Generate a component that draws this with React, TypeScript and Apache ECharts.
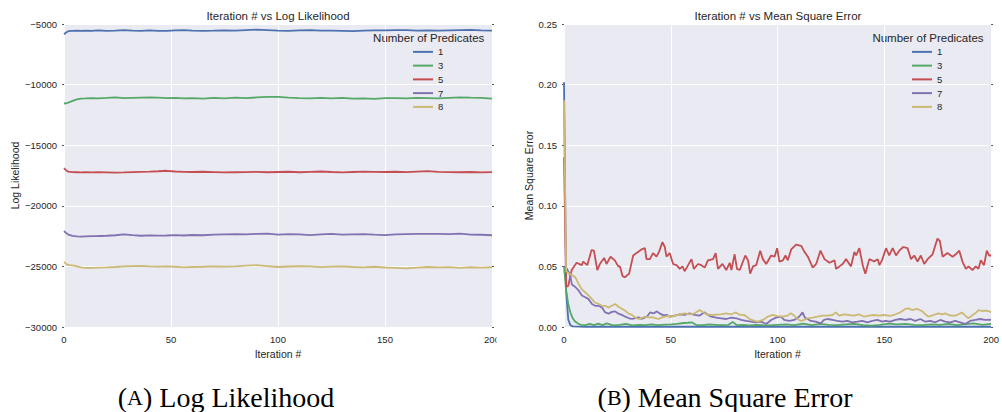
import React, { useEffect, useRef } from "react";
import * as echarts from "echarts";

const SERIES_NAMES = ["1", "3", "5", "7", "8"];
const COLORS = ["#4C72B0", "#55A868", "#C44E52", "#8172B2", "#CCB974"];

// ---- Log likelihood (left) ----
const LL_ITER = [0, 1, 2, 4, 6, 8, 10, 13, 16, 20, 24, 28, 32, 36, 40, 44, 48, 52, 56, 60, 65, 70, 75, 80, 85, 90, 95, 100, 105, 110, 115, 120, 125, 130, 135, 140, 145, 150, 155, 160, 165, 170, 175, 180, 185, 190, 195, 200];
const LL_1 = [-5850, -5700, -5590, -5560, -5550, -5570, -5540, -5560, -5530, -5560, -5540, -5510, -5540, -5560, -5530, -5570, -5560, -5520, -5500, -5540, -5560, -5550, -5520, -5540, -5500, -5470, -5510, -5550, -5560, -5530, -5510, -5540, -5550, -5560, -5580, -5550, -5530, -5520, -5500, -5510, -5540, -5530, -5550, -5520, -5500, -5480, -5520, -5540];
const LL_3 = [-11560, -11540, -11480, -11350, -11220, -11150, -11140, -11120, -11130, -11100, -11050, -11120, -11100, -11080, -11060, -11070, -11110, -11100, -11140, -11120, -11150, -11090, -11130, -11080, -11120, -11060, -11020, -11010, -11070, -11110, -11140, -11090, -11130, -11100, -11160, -11130, -11180, -11120, -11110, -11140, -11090, -11110, -11130, -11090, -11060, -11080, -11090, -11150];
const LL_5 = [-16900, -17080, -17180, -17220, -17230, -17250, -17230, -17250, -17220, -17240, -17260, -17250, -17220, -17200, -17180, -17150, -17110, -17170, -17200, -17210, -17190, -17220, -17250, -17230, -17220, -17200, -17230, -17210, -17190, -17230, -17200, -17170, -17210, -17240, -17210, -17180, -17200, -17210, -17190, -17220, -17180, -17140, -17200, -17220, -17230, -17210, -17240, -17220];
const LL_7 = [-22080, -22250, -22380, -22480, -22530, -22550, -22530, -22500, -22490, -22470, -22430, -22360, -22420, -22470, -22440, -22460, -22450, -22420, -22450, -22410, -22430, -22380, -22360, -22340, -22350, -22320, -22300, -22380, -22330, -22360, -22420, -22360, -22320, -22380, -22350, -22330, -22380, -22420, -22360, -22340, -22320, -22310, -22320, -22330, -22290, -22380, -22390, -22430];
const LL_8 = [-24620, -24800, -24900, -24920, -25000, -25080, -25120, -25130, -25100, -25080, -25050, -25000, -24970, -24950, -25000, -25020, -25000, -25030, -25080, -25050, -25030, -25000, -25020, -24990, -24940, -24900, -24970, -25050, -25010, -24980, -25000, -25060, -25020, -25000, -25050, -25080, -25030, -25090, -25120, -25160, -25100, -25050, -25080, -25060, -25120, -25070, -25100, -25070];
const LL_SERIES = [LL_1, LL_3, LL_5, LL_7, LL_8];

// ---- Mean square error (right): [iteration, value] ----
const MSE_1 = [[0, 0.202], [1, 0.03], [2, 0.006], [3, 0.0015], [4, 0.0005], [10, 0.0002], [40, 0.0002], [80, 0.0002], [120, 0.0002], [160, 0.0002], [200, 0.0002]];
const MSE_3 = [[0, 0.05], [1, 0.03], [2, 0.019], [3, 0.012], [4, 0.0075], [5, 0.005], [6, 0.0035], [7, 0.0025], [8, 0.0018], [10, 0.0016], [12, 0.0025], [14, 0.0015], [16, 0.0028], [18, 0.0015], [20, 0.003], [23, 0.0014], [26, 0.0018], [29, 0.0025], [32, 0.0013], [35, 0.0017], [38, 0.0015], [41, 0.0021], [44, 0.0015], [47, 0.0019], [50, 0.0021], [53, 0.0025], [56, 0.0033], [58, 0.0035], [60, 0.0038], [62, 0.0016], [65, 0.0015], [68, 0.0021], [71, 0.0018], [74, 0.0015], [77, 0.0018], [79, 0.0042], [81, 0.0015], [84, 0.0018], [87, 0.0013], [90, 0.0017], [93, 0.0015], [96, 0.0014], [100, 0.0018], [104, 0.0021], [108, 0.0015], [112, 0.0027], [116, 0.0015], [120, 0.0025], [124, 0.0018], [128, 0.0015], [132, 0.0021], [136, 0.0025], [140, 0.0015], [144, 0.0011], [148, 0.0018], [152, 0.0028], [156, 0.0021], [160, 0.0025], [164, 0.0018], [168, 0.0015], [172, 0.0021], [176, 0.0018], [180, 0.0025], [184, 0.0015], [188, 0.0023], [192, 0.003], [196, 0.0018], [200, 0.0025]];
const MSE_5_ITER = [
  0, 1, 2, 3.6, 5.9, 8.3, 9, 10.9, 12.9, 14,
  15.6, 16.8, 18.8, 19.9, 21.8, 23.8, 25.4, 26.2, 27.4, 28.5,
  30.5, 32.4, 34, 36.3, 37.9, 38.6, 40.2, 41.7, 43.3, 44.5,
  46.1, 47.2, 48, 49.5, 51.1, 52.7, 54.2, 55.5, 56.5, 57.8,
  59.7, 60.8, 62.8, 64.3, 65.9, 67.4, 69.8, 71, 72.1, 74.2,
  76, 77.6, 78.4, 79.9, 81, 82.3, 84.9, 86.2, 87.2, 88.5,
  90, 91.9, 93.1, 94.7, 97, 98.6, 99.8, 100.9, 102.5, 103.7,
  104.8, 106.4, 108.7, 111.1, 112.6, 114.2, 116.5, 118.1, 120.1, 122,
  124.3, 126.7, 127.4, 129, 130.5, 132.1, 134.4, 136, 136.8, 138.3,
  139.9, 141.1, 143, 145.3, 146.9, 147.7, 148.9, 150.8, 152.3, 153.9,
  155.5, 157, 158.9, 160.9, 162.5, 164, 165.6, 167.1, 168.7, 170.3,
  172.6, 174.9, 176, 177.3, 179.6, 182, 183.5, 185.1, 186.6, 188.2,
  189.4, 191.3, 192.8, 194.1, 195.2, 196.7, 198, 199.1, 200,
];
const MSE_5 = [
  0.14, 0.033, 0.034, 0.047, 0.053, 0.051, 0.054, 0.051, 0.0635, 0.063,
  0.047, 0.052, 0.057, 0.052, 0.058, 0.055, 0.05, 0.05, 0.042, 0.041,
  0.044, 0.059, 0.061, 0.064, 0.065, 0.056, 0.056, 0.061, 0.058, 0.062,
  0.07, 0.066, 0.058, 0.061, 0.052, 0.051, 0.048, 0.05, 0.046, 0.05,
  0.056, 0.048, 0.052, 0.051, 0.049, 0.055, 0.056, 0.061, 0.048, 0.052,
  0.047, 0.053, 0.047, 0.06, 0.048, 0.047, 0.059, 0.055, 0.044, 0.05,
  0.051, 0.063, 0.056, 0.052, 0.059, 0.058, 0.065, 0.054, 0.055, 0.059,
  0.055, 0.064, 0.068, 0.067, 0.062, 0.058, 0.049, 0.052, 0.063, 0.056,
  0.053, 0.055, 0.048, 0.05, 0.052, 0.056, 0.05, 0.062, 0.059, 0.065,
  0.051, 0.044, 0.056, 0.054, 0.056, 0.051, 0.055, 0.065, 0.059, 0.065,
  0.059, 0.063, 0.066, 0.065, 0.056, 0.059, 0.054, 0.059, 0.052, 0.056,
  0.06, 0.073, 0.071, 0.058, 0.061, 0.058, 0.06, 0.063, 0.054, 0.048,
  0.05, 0.047, 0.05, 0.048, 0.055, 0.051, 0.063, 0.059, 0.059,
];
const MSE_7 = [[0, 0.05], [1, 0.049], [2, 0.046], [3, 0.042], [3.7, 0.035], [5.3, 0.033], [6.9, 0.03], [8.4, 0.026], [10, 0.0245], [11.5, 0.023], [13.1, 0.019], [14.6, 0.0175], [16.2, 0.0175], [17.8, 0.016], [19.3, 0.012], [20.9, 0.011], [22.4, 0.0125], [24, 0.0129], [25.5, 0.011], [27.1, 0.01], [28.7, 0.0085], [30.2, 0.0074], [31.8, 0.0066], [33.3, 0.0074], [34.9, 0.0079], [36.4, 0.0066], [38.8, 0.0085], [40.3, 0.012], [41.9, 0.0112], [43.5, 0.0129], [45, 0.011], [46.6, 0.0096], [48.1, 0.01], [49.5, 0.0085], [51.8, 0.0094], [54.2, 0.0105], [56.5, 0.01], [58.8, 0.0113], [61.2, 0.01], [63.5, 0.0094], [65.9, 0.0121], [67.4, 0.01], [69, 0.0085], [71.3, 0.0077], [73.6, 0.0072], [76, 0.0066], [78.3, 0.0077], [80.7, 0.0072], [83, 0.0058], [85.3, 0.005], [87.7, 0.0044], [90, 0.0038], [92.3, 0.0044], [94.7, 0.0025], [97, 0.0058], [99.3, 0.0077], [101.6, 0.0085], [103.1, 0.0058], [105.5, 0.005], [107.8, 0.0058], [110.1, 0.0085], [111.7, 0.0121], [112.8, 0.0077], [114, 0.0066], [115.6, 0.005], [117.9, 0.0044], [120.2, 0.003], [121.8, 0.0058], [123.4, 0.0066], [125.7, 0.0058], [128, 0.005], [130.4, 0.0044], [132.7, 0.005], [135, 0.0039], [137.4, 0.0044], [139.7, 0.005], [142.1, 0.0039], [144.4, 0.005], [146.7, 0.0058], [149.1, 0.0044], [150.5, 0.005], [152.8, 0.0044], [155.2, 0.0058], [157.5, 0.0066], [159.8, 0.0058], [162.2, 0.0066], [164.5, 0.005], [166.9, 0.0066], [169.2, 0.0044], [171.5, 0.005], [173.9, 0.0039], [176.2, 0.0058], [178.5, 0.0044], [180.9, 0.0039], [183.2, 0.005], [185.5, 0.0039], [187.9, 0.0025], [190.2, 0.005], [192.6, 0.0058], [194.9, 0.0066], [197.2, 0.0058], [200, 0.006]];
const MSE_8 = [[0, 0.187], [1, 0.046], [2.2, 0.0443], [3.5, 0.043], [5.3, 0.041], [6.9, 0.0354], [8.4, 0.031], [10, 0.0285], [11.5, 0.026], [13.1, 0.023], [14.6, 0.02], [16.2, 0.019], [17.8, 0.0175], [19.3, 0.0175], [20.9, 0.016], [22.4, 0.0175], [24, 0.019], [25.5, 0.0167], [27.1, 0.015], [28.7, 0.0134], [30.2, 0.011], [31.8, 0.01], [33.3, 0.0079], [34.9, 0.0066], [36.4, 0.0074], [38, 0.0085], [39.6, 0.0079], [41.1, 0.0082], [42.7, 0.0074], [44.2, 0.0066], [45.8, 0.0079], [47.4, 0.0085], [48.9, 0.0093], [49.5, 0.008], [51.8, 0.0094], [54.2, 0.0105], [56.5, 0.0113], [58.8, 0.0105], [61.2, 0.0113], [63.5, 0.014], [65.1, 0.0121], [66.6, 0.0105], [69, 0.0099], [71.3, 0.0102], [73.6, 0.0105], [76, 0.0113], [78.3, 0.0105], [80.6, 0.012], [82.2, 0.0102], [84.5, 0.0099], [86.9, 0.0066], [89.2, 0.005], [90.8, 0.0044], [93.1, 0.0058], [95.4, 0.0085], [97.8, 0.01], [100, 0.009], [102.3, 0.0085], [104.7, 0.0094], [106.2, 0.0113], [107.8, 0.0094], [109.3, 0.0066], [110.9, 0.005], [112.5, 0.0058], [114, 0.0072], [116.4, 0.0077], [118.7, 0.0085], [121, 0.0094], [123.4, 0.0094], [125.7, 0.0099], [127.3, 0.0121], [128.8, 0.0094], [131.2, 0.0105], [133.5, 0.0099], [135.8, 0.0094], [138.2, 0.0105], [140.5, 0.0085], [142.8, 0.0094], [145.2, 0.0099], [147.5, 0.0094], [149.8, 0.0099], [152.8, 0.0091], [155.2, 0.0105], [157.5, 0.0121], [159.8, 0.0149], [161.4, 0.0154], [163, 0.014], [165.3, 0.0149], [167.6, 0.0132], [169.2, 0.0105], [170.7, 0.0085], [172.3, 0.0094], [173.9, 0.0105], [175.4, 0.0113], [177, 0.0105], [178.5, 0.0113], [180.1, 0.0099], [181.6, 0.0094], [183.2, 0.0094], [184.8, 0.0105], [186.3, 0.012], [187.9, 0.0094], [189.4, 0.0072], [191, 0.0094], [192.6, 0.0113], [194.1, 0.014], [195.7, 0.0132], [197.2, 0.0135], [198.8, 0.0132], [200, 0.0121]];

const TEXT = "#262626";
const SANS = "'Liberation Sans', Arial, sans-serif";
const SERIF = "'Liberation Serif', 'Times New Roman', serif";

export default function App() {
  const ref = useRef<HTMLDivElement>(null);
  useEffect(() => {
    if (!ref.current) return;
    const chart = echarts.init(ref.current, undefined, { renderer: "svg" });

    const mse5 = MSE_5_ITER.map((x, i) => [x, MSE_5[i]]);
    const mseSeries = [MSE_1, MSE_3, mse5, MSE_7, MSE_8];

    const series: any[] = [];
    LL_SERIES.forEach((vals, k) => {
      series.push({
        name: SERIES_NAMES[k], type: "line", xAxisIndex: 0, yAxisIndex: 0,
        data: LL_ITER.map((x, i) => [x, vals[i]]),
        symbol: "none", lineStyle: { width: 1.8, color: COLORS[k] }, itemStyle: { color: COLORS[k] },
      });
    });
    mseSeries.forEach((pts, k) => {
      series.push({
        name: SERIES_NAMES[k], type: "line", xAxisIndex: 1, yAxisIndex: 2,
        data: pts,
        symbol: "none", lineStyle: { width: 1.8, color: COLORS[k] }, itemStyle: { color: COLORS[k] },
      });
    });

    const gridCommon = { top: 24, width: 428, height: 303, show: true, backgroundColor: "#EAEAF2", borderWidth: 0 };
    const xAxisCommon = (gi: number) => ({
      type: "value", gridIndex: gi, min: 0, max: 200, interval: 50,
      name: "Iteration #", nameLocation: "middle", nameGap: 20,
      nameTextStyle: { color: TEXT, fontSize: 10.5, fontFamily: SANS },
      axisLine: { show: false }, axisTick: { show: false },
      axisLabel: { color: TEXT, fontSize: 9.5, fontFamily: SANS, margin: 7 },
      splitLine: { show: true, lineStyle: { color: "#FFFFFF", width: 1 } },
    });
    const yMain = (gi: number, min: number, max: number, interval: number, name: string, gap: number, fmt: (v: number) => string) => ({
      type: "value", gridIndex: gi, min, max, interval, position: "left",
      name, nameLocation: "middle", nameGap: gap,
      nameTextStyle: { color: TEXT, fontSize: 10.5, fontFamily: SANS },
      axisLine: { show: false },
      axisTick: { show: true, length: 2, lineStyle: { color: "#555" } },
      axisLabel: { color: TEXT, fontSize: 9.5, fontFamily: SANS, margin: 7, formatter: fmt },
      splitLine: { show: true, lineStyle: { color: "#FFFFFF", width: 1 } },
    });
    const yMirror = (gi: number, min: number, max: number, interval: number) => ({
      type: "value", gridIndex: gi, min, max, interval, position: "right",
      axisLine: { show: false },
      axisTick: { show: true, length: 2, lineStyle: { color: "#555" } },
      axisLabel: { show: false }, splitLine: { show: false },
    });

    const legendCommon = {
      orient: "vertical", top: 45, padding: 0, itemGap: 0, itemWidth: 20, itemHeight: 2,
      icon: "rect", data: SERIES_NAMES, selectedMode: false,
      textStyle: { color: TEXT, fontSize: 9.5, fontFamily: SANS, lineHeight: 13.75 },
    };

    const txt = (x: number, y: number, text: string, size: number, family = SANS, color = TEXT) => ({
      type: "text", x, y, silent: true,
      style: { text, fill: color, font: `${size}px ${family}`, align: "center", verticalAlign: "middle" },
    });
    const caption = (x: number, letter: string, rest: string) => ({
      type: "text", x, y: 397, silent: true,
      style: {
        text: `{p|(}{s|${letter}}{p|) ${rest}}`,
        align: "center", verticalAlign: "middle",
        rich: {
          p: { fontSize: 28, fontFamily: SERIF, fill: "#000" },
          s: { fontSize: 22, fontFamily: SERIF, fill: "#000" },
        },
      },
    });

    chart.setOption({
      animation: false,
      backgroundColor: "#FFFFFF",
      grid: [{ ...gridCommon, left: 64 }, { ...gridCommon, left: 564 }],
      xAxis: [xAxisCommon(0), xAxisCommon(1)],
      yAxis: [
        yMain(0, -30000, -5000, 5000, "Log Likelihood", 44, (v: number) => String(v).replace("-", "\u2212")),
        yMirror(0, -30000, -5000, 5000),
        yMain(1, 0, 0.25, 0.05, "Mean Square Error", 30, (v: number) => v.toFixed(2)),
        yMirror(1, 0, 0.25, 0.05),
      ],
      legend: [{ ...legendCommon, left: 413 }, { ...legendCommon, left: 912 }],
      series,
      graphic: [
        { type: "rect", shape: { x: 496.5, y: 329, width: 14, height: 18 }, style: { fill: "#FFFFFF" }, z: 100, silent: true },
        txt(278, 15.7, "Iteration # vs Log Likelihood", 11.5),
        txt(778, 15.7, "Iteration # vs Mean Square Error", 11.5),
        txt(428.7, 37.7, "Number of Predicates", 11.5),
        txt(928, 37.7, "Number of Predicates", 11.5),
        caption(226, "A", "Log Likelihood"),
        caption(725, "B", "Mean Square Error"),
      ],
    });
    return () => chart.dispose();
  }, []);
  return <div ref={ref} style={{ position: "fixed", left: 0, top: 0, width: 1002, height: 412 }} />;
}
